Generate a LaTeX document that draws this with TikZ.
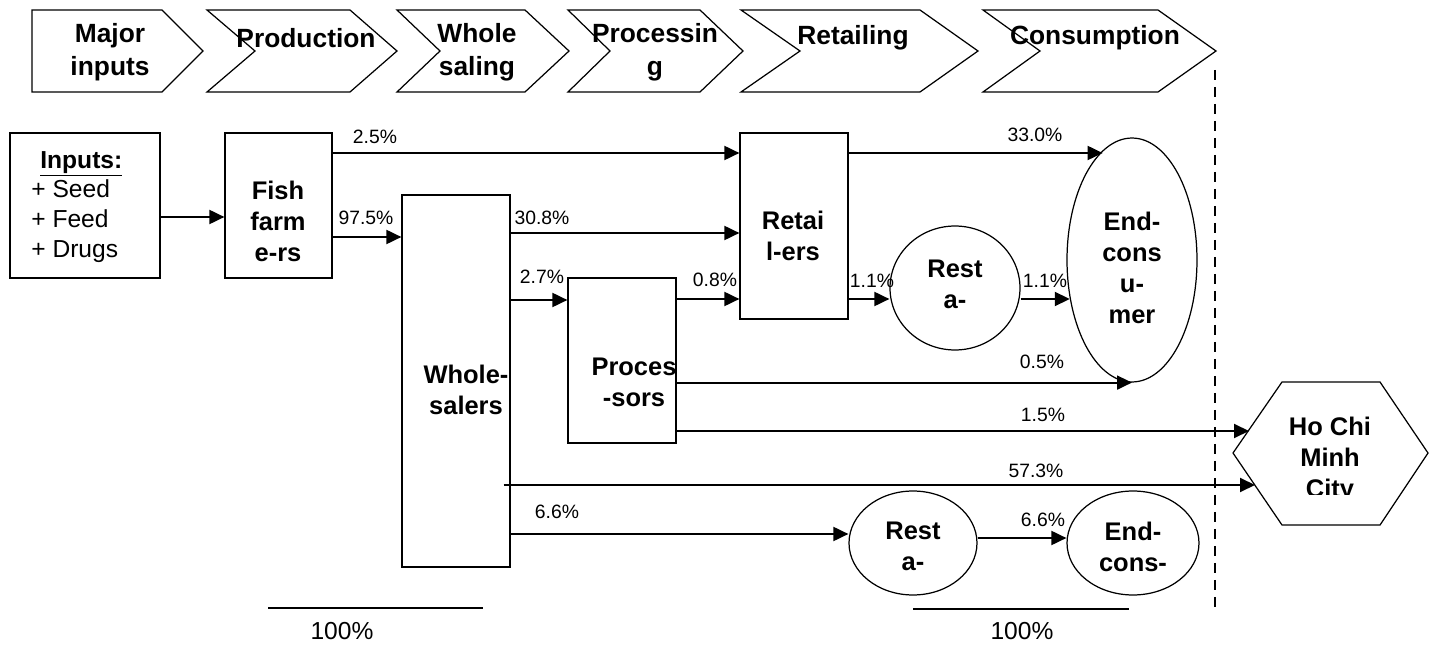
\documentclass[tikz,border=0pt]{standalone}
\usepackage{fontspec}
\setmainfont{Liberation Sans}
\usetikzlibrary{arrows.meta,shapes.geometric}

\tikzset{
  stagebox/.style={draw, line width=0.7pt},
  stagetxt/.style={font=\fontsize{15}{18.7}\selectfont\bfseries, align=center, inner sep=0pt},
  actor/.style={draw, line width=0.7pt, inner sep=0pt},
  actortxt/.style={font=\fontsize{14.5}{17.6}\selectfont\bfseries, align=center, inner sep=0pt},
  pct/.style={font=\fontsize{11}{13}\selectfont, inner sep=0pt},
  sumtxt/.style={font=\fontsize{14}{16}\selectfont, inner sep=0pt},
  flow/.style={line width=1.1pt, -{Triangle[length=0.3cm,width=0.28cm]}},
  total/.style={line width=1pt},
}

\begin{document}
\begin{tikzpicture}[x=0.02cm, y=-0.02cm]
    \useasboundingbox (0,0) rectangle (1431,645);
    \clip (0,0) rectangle (1431,645);

    % stages along the top
    \draw[stagebox] (32,10) -- (162,10) -- (203,51) -- (162,92) -- (32,92) -- cycle;
    \draw[stagebox] (207,10) -- (350,10) -- (397,51) -- (350,92) -- (207,92) -- (255,51) -- cycle;
    \draw[stagebox] (397,10) -- (525,10) -- (569,51) -- (525,92) -- (397,92) -- (440,51) -- cycle;
    \draw[stagebox] (568,10) -- (700,10) -- (743,51) -- (700,92) -- (568,92) -- (610,51) -- cycle;
    \draw[stagebox] (741,10) -- (920,10) -- (978,51) -- (920,92) -- (741,92) -- (800,51) -- cycle;
    \draw[stagebox] (983,10) -- (1158,10) -- (1216,51) -- (1158,92) -- (983,92) -- (1040,51) -- cycle;
    \node[stagetxt] (major) at (110,52) {Major\\inputs};
    \node[stagetxt] (production) at (306,38) {Production};
    \node[stagetxt] (wholesaling) at (477,52) {Whole\\saling};
    \node[stagetxt] (processing) at (655,52) {Processin\\g};
    \node[stagetxt] (retailing) at (853,38) {Retailing};
    \node[stagetxt] (consumption) at (1095,38) {Consumption};

    % actors
    \node[actor, minimum width=3cm, minimum height=2.9cm] (inputs) at (85,205.5) {};
    \node[actor, minimum width=2.14cm, minimum height=2.9cm] (fish) at (278.5,205.5) {};
    \node[actor, minimum width=2.16cm, minimum height=7.44cm] (whole) at (456,381) {};
    \node[actor, minimum width=2.16cm, minimum height=3.3cm] (proc) at (622,360.5) {};
    \node[actor, minimum width=2.16cm, minimum height=3.72cm] (retail) at (794,226) {};
    \node[actor, ellipse, minimum width=2.6cm, minimum height=2.48cm] (restA) at (955,288) {};
    \node[actor, ellipse, minimum width=2.6cm, minimum height=4.88cm] (endA) at (1132,260) {};
    \node[actor, ellipse, minimum width=2.56cm, minimum height=2.08cm] (restB) at (913,543) {};
    \node[actor, ellipse, minimum width=2.64cm, minimum height=2.08cm] (endB) at (1133,543) {};
    \draw[actor] (1233,453) -- (1282,382) -- (1380,382) -- (1428,453) -- (1380,525) -- (1282,525) -- cycle;
    \coordinate (hcmcUp) at (1249,431);
    \coordinate (hcmcLow) at (1255,485);

    \node[font=\fontsize{14}{17}\selectfont, align=left, anchor=west, inner sep=0pt] (inputsTxt) at (31,207)
      {\hspace*{0.18cm}\underline{\textbf{Inputs:}}\\+ Seed\\+ Feed\\+ Drugs};
    \node[actortxt] (fishTxt) at (278,221) {Fish\\farm\\e-rs};
    \node[actortxt] (wholeTxt) at (466,390) {Whole-\\salers};
    \node[actortxt] (procTxt) at (634,382) {Proces\\-sors};
    \node[actortxt] (retailTxt) at (793,236) {Retai\\l-ers};
    \node[actortxt] (restATxt) at (955,284) {Rest\\a-};
    \node[actortxt] (endATxt) at (1132,268) {End-\\cons\\u-\\mer};
    \node[actortxt] (restBTxt) at (913,546) {Rest\\a-};
    \node[actortxt] (endBTxt) at (1133,547) {End-\\cons-};
    \begin{scope}
      \clip (1233,380) rectangle (1430,494);
      \node[actortxt] (hcmcTxt) at (1330,460) {Ho Chi\\Minh\\City};
    \end{scope}

    % flows
    \draw[flow] (inputs.east |- 0,217) -- (fish.west |- 0,217);
    \draw[flow] (fish.east |- 0,153) -- (retail.west |- 0,153);
    \draw[flow] (fish.east |- 0,237) -- (whole.west |- 0,237);
    \draw[flow] (whole.east |- 0,233) -- (retail.west |- 0,233);
    \draw[flow] (whole.east |- 0,300) -- (proc.west |- 0,300);
    \draw[flow] (proc.east |- 0,299) -- (retail.west |- 0,299);
    \draw[flow] (retail.east |- 0,153) -- (endA.105 |- 0,153);
    \draw[flow] (retail.east |- 0,299) -- (restA.west |- 0,299);
    \draw[flow] (restA.east |- 0,299) -- (endA.212 |- 0,299);
    \draw[flow] (proc.east |- endA.south) -- (endA.south);
    \draw[flow] (proc.east |- hcmcUp) -- (hcmcUp);
    \draw[flow] ([xshift=-0.14cm]whole.east |- hcmcLow) -- (hcmcLow);
    \draw[flow] (whole.east |- 0,534) -- (restB.west |- 0,534);
    \draw[flow] (restB.east |- 0,538) -- (endB.west |- 0,538);

    \node[pct] (p25) at (375,137) {2.5\%};
    \node[pct] (p975) at (366,218) {97.5\%};
    \node[pct] (p308) at (542,218) {30.8\%};
    \node[pct] (p27) at (542,277) {2.7\%};
    \node[pct] (p08) at (715,280) {0.8\%};
    \node[pct] (p11a) at (872,281) {1.1\%};
    \node[pct] (p11b) at (1045,281) {1.1\%};
    \node[pct] (p330) at (1035,135) {33.0\%};
    \node[pct] (p05) at (1042,362) {0.5\%};
    \node[pct] (p15) at (1043,415) {1.5\%};
    \node[pct] (p573) at (1036,471) {57.3\%};
    \node[pct] (p66a) at (557,512) {6.6\%};
    \node[pct] (p66b) at (1043,520) {6.6\%};

    % totals and border of the city
    \draw[total] (268,608) -- (483,608);
    \draw[total] (913,609) -- (1129,609);
    \node[sumtxt] (sumL) at (342,631) {100\%};
    \node[sumtxt] (sumR) at (1022,631) {100\%};
    \draw[line width=0.6pt, dash pattern=on 0.2cm off 0.14cm] (1215,70) -- (1215,612);
\end{tikzpicture}
\end{document}
